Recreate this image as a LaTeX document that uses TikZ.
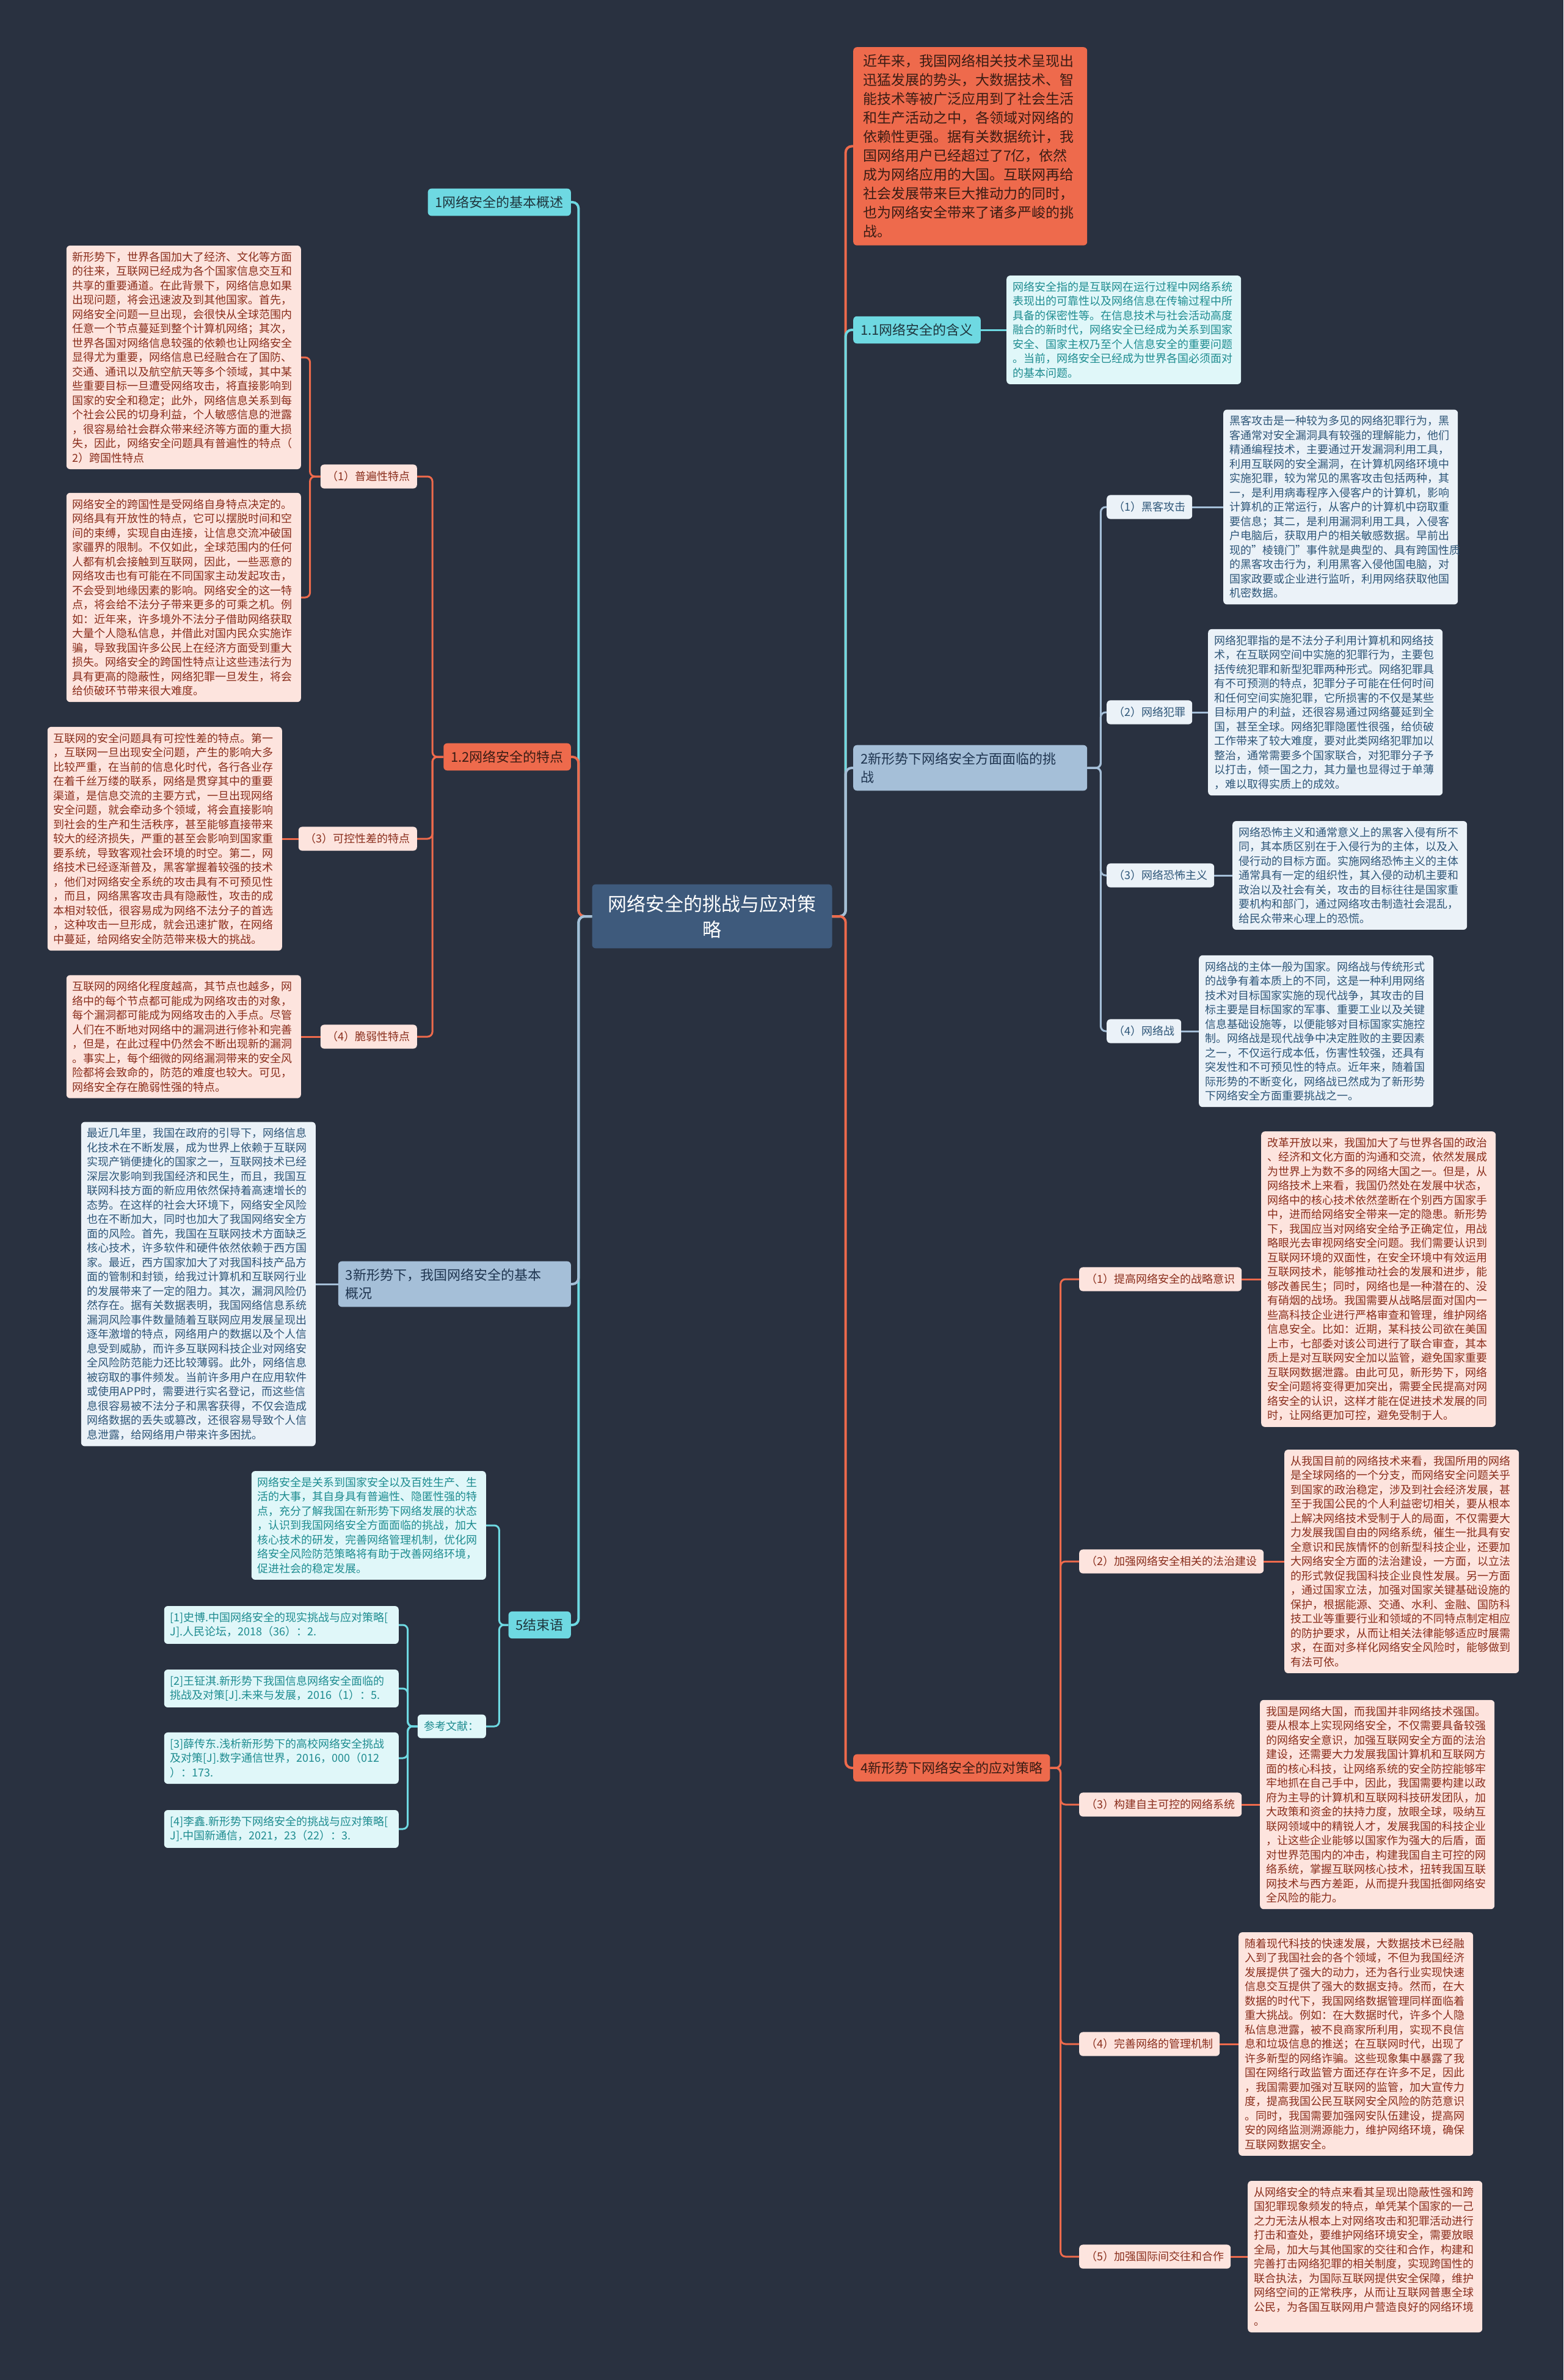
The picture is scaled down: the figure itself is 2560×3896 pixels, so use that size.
\documentclass[tikz,border=0pt]{standalone}
\usepackage{fontspec}
\setmainfont{Noto Sans CJK SC}
\definecolor{bg}{HTML}{293140}
\definecolor{cen}{HTML}{3E5A7C}
\definecolor{cy}{HTML}{6ED9E2}
\definecolor{rd}{HTML}{EE6A4C}
\definecolor{bl}{HTML}{A5BFD8}
\definecolor{cyl}{HTML}{E0F7F9}
\definecolor{rdl}{HTML}{FDE4DE}
\definecolor{bll}{HTML}{EBF2F8}
\definecolor{cyt}{HTML}{1E8C90}
\definecolor{rdt}{HTML}{8A2E1C}
\definecolor{blt}{HTML}{2E5678}
\definecolor{cyN}{HTML}{1F363E}
\definecolor{rdN}{HTML}{3A1C14}
\definecolor{blN}{HTML}{1F3550}
\tikzset{
  basebox/.style={rounded corners=6bp, align=left},
  cenbox/.style={basebox, fill=cen, text=white, align=center, text width=349bp,
    inner xsep=22bp, inner ysep=17bp, font=\fontsize{31bp}{42bp}\selectfont},
  lvone/.style={basebox, inner xsep=12bp, inner ysep=12bp, font=\fontsize{22bp}{30bp}\selectfont},
  cynode/.style={lvone, fill=cy, text=cyN},
  rdnode/.style={lvone, fill=rd, text=rdN},
  blnode/.style={lvone, fill=bl, text=blN},
  bignote/.style={basebox, fill=rd, text=rdN, text width=351bp, inner xsep=16bp, inner ysep=12bp,
    font=\fontsize{23bp}{31bp}\selectfont},
  lab/.style={basebox, inner xsep=11bp, inner ysep=11bp, font=\fontsize{18bp}{23bp}\selectfont},
  rdlab/.style={lab, fill=rdl, text=rdt},
  bllab/.style={lab, fill=bll, text=blt},
  cylab/.style={lab, fill=cyl, text=cyt},
  det/.style={basebox, text width=364bp, inner xsep=10bp, inner ysep=10bp,
    font=\fontsize{18bp}{23.5bp}\selectfont},
  rddet/.style={det, fill=rdl, text=rdt},
  bldet/.style={det, fill=bll, text=blt},
  cydet/.style={det, fill=cyl, text=cyt},
  mainln/.style={line width=4bp, rounded corners=10bp},
  subln/.style={line width=3bp, rounded corners=8bp}
}
\begin{document}
\begin{tikzpicture}[x=1bp,y=-1bp]
\fill[bg] (0,0) rectangle (2560,3896);
\useasboundingbox (0,0) rectangle (2560,3896);

% centre
\node[cenbox] (C) at (1166,1500) {网络安全的挑战与应对策\\略};

% ---------- right side ----------
\node[bignote, anchor=north west] (R0) at (1397,77) {近年来，我国网络相关技术呈现出\\迅猛发展的势头，大数据技术、智\\能技术等被广泛应用到了社会生活\\和生产活动之中，各领域对网络的\\依赖性更强。据有关数据统计，我\\国网络用户已经超过了7亿，依然\\成为网络应用的大国。互联网再给\\社会发展带来巨大推动力的同时，\\也为网络安全带来了诸多严峻的挑\\战。};

\node[cynode, anchor=west] (R1) at (1397,540) {1.1网络安全的含义};
\node[cydet, anchor=west] (R1d) at (1648,540) {网络安全指的是互联网在运行过程中网络系统\\表现出的可靠性以及网络信息在传输过程中所\\具备的保密性等。在信息技术与社会活动高度\\融合的新时代，网络安全已经成为关系到国家\\安全、国家主权乃至个人信息安全的重要问题\\。当前，网络安全已经成为世界各国必须面对\\的基本问题。};

\node[blnode, anchor=west, text width=359bp] (R2) at (1397,1257) {2新形势下网络安全方面面临的挑\\战};

\node[bllab, anchor=west] (a) at (1812,830) {（1）黑客攻击};
\node[bldet, anchor=west] (ad) at (2003,830) {黑客攻击是一种较为多见的网络犯罪行为，黑\\客通常对安全漏洞具有较强的理解能力，他们\\精通编程技术，主要通过开发漏洞利用工具，\\利用互联网的安全漏洞，在计算机网络环境中\\实施犯罪，较为常见的黑客攻击包括两种，其\\一，是利用病毒程序入侵客户的计算机，影响\\计算机的正常运行，从客户的计算机中窃取重\\要信息；其二，是利用漏洞利用工具，入侵客\\户电脑后，获取用户的相关敏感数据。早前出\\现的"棱镜门"事件就是典型的、具有跨国性质\\的黑客攻击行为，利用黑客入侵他国电脑，对\\国家政要或企业进行监听，利用网络获取他国\\机密数据。};

\node[bllab, anchor=west] (b) at (1812,1166) {（2）网络犯罪};
\node[bldet, anchor=west] (bd) at (1978,1166) {网络犯罪指的是不法分子利用计算机和网络技\\术，在互联网空间中实施的犯罪行为，主要包\\括传统犯罪和新型犯罪两种形式。网络犯罪具\\有不可预测的特点，犯罪分子可能在任何时间\\和任何空间实施犯罪，它所损害的不仅是某些\\目标用户的利益，还很容易通过网络蔓延到全\\国，甚至全球。网络犯罪隐匿性很强，给侦破\\工作带来了较大难度，要对此类网络犯罪加以\\整治，通常需要多个国家联合，对犯罪分子予\\以打击，倾一国之力，其力量也显得过于单薄\\，难以取得实质上的成效。};

\node[bllab, anchor=west] (c) at (1812,1433) {（3）网络恐怖主义};
\node[bldet, anchor=west] (cd) at (2018,1433) {网络恐怖主义和通常意义上的黑客入侵有所不\\同，其本质区别在于入侵行为的主体，以及入\\侵行动的目标方面。实施网络恐怖主义的主体\\通常具有一定的组织性，其入侵的动机主要和\\政治以及社会有关，攻击的目标往往是国家重\\要机构和部门，通过网络攻击制造社会混乱，\\给民众带来心理上的恐慌。};

\node[bllab, anchor=west] (d) at (1812,1688) {（4）网络战};
\node[bldet, anchor=west] (dd) at (1963,1688) {网络战的主体一般为国家。网络战与传统形式\\的战争有着本质上的不同，这是一种利用网络\\技术对目标国家实施的现代战争，其攻击的目\\标主要是目标国家的军事、重要工业以及关键\\信息基础设施等，以便能够对目标国家实施控\\制。网络战是现代战争中决定胜败的主要因素\\之一，不仅运行成本低，伤害性较强，还具有\\突发性和不可预见性的特点。近年来，随着国\\际形势的不断变化，网络战已然成为了新形势\\下网络安全方面重要挑战之一。};

\node[rdnode, anchor=west] (R4) at (1397,2894) {4新形势下网络安全的应对策略};

\node[rdlab, anchor=west] (e) at (1767,2094) {（1）提高网络安全的战略意识};
\node[rddet, anchor=west] (ed) at (2065,2094) {改革开放以来，我国加大了与世界各国的政治\\、经济和文化方面的沟通和交流，依然发展成\\为世界上为数不多的网络大国之一。但是，从\\网络技术上来看，我国仍然处在发展中状态，\\网络中的核心技术依然垄断在个别西方国家手\\中，进而给网络安全带来一定的隐患。新形势\\下，我国应当对网络安全给予正确定位，用战\\略眼光去审视网络安全问题。我们需要认识到\\互联网环境的双面性，在安全环境中有效运用\\互联网技术，能够推动社会的发展和进步，能\\够改善民生；同时，网络也是一种潜在的、没\\有硝烟的战场。我国需要从战略层面对国内一\\些高科技企业进行严格审查和管理，维护网络\\信息安全。比如：近期，某科技公司欲在美国\\上市，七部委对该公司进行了联合审查，其本\\质上是对互联网安全加以监管，避免国家重要\\互联网数据泄露。由此可见，新形势下，网络\\安全问题将变得更加突出，需要全民提高对网\\络安全的认识，这样才能在促进技术发展的同\\时，让网络更加可控，避免受制于人。};

\node[rdlab, anchor=west] (f) at (1767,2556) {（2）加强网络安全相关的法治建设};
\node[rddet, anchor=west] (fd) at (2103,2556) {从我国目前的网络技术来看，我国所用的网络\\是全球网络的一个分支，而网络安全问题关乎\\到国家的政治稳定，涉及到社会经济发展，甚\\至于我国公民的个人利益密切相关，要从根本\\上解决网络技术受制于人的局面，不仅需要大\\力发展我国自由的网络系统，催生一批具有安\\全意识和民族情怀的创新型科技企业，还要加\\大网络安全方面的法治建设，一方面，以立法\\的形式敦促我国科技企业良性发展。另一方面\\，通过国家立法，加强对国家关键基础设施的\\保护，根据能源、交通、水利、金融、国防科\\技工业等重要行业和领域的不同特点制定相应\\的防护要求，从而让相关法律能够适应时展需\\求，在面对多样化网络安全风险时，能够做到\\有法可依。};

\node[rdlab, anchor=west] (g) at (1767,2954) {（3）构建自主可控的网络系统};
\node[rddet, anchor=west] (gd) at (2063,2954) {我国是网络大国，而我国并非网络技术强国。\\要从根本上实现网络安全，不仅需要具备较强\\的网络安全意识，加强互联网安全方面的法治\\建设，还需要大力发展我国计算机和互联网方\\面的核心科技，让网络系统的安全防控能够牢\\牢地抓在自己手中，因此，我国需要构建以政\\府为主导的计算机和互联网科技研发团队，加\\大政策和资金的扶持力度，放眼全球，吸纳互\\联网领域中的精锐人才，发展我国的科技企业\\，让这些企业能够以国家作为强大的后盾，面\\对世界范围内的冲击，构建我国自主可控的网\\络系统，掌握互联网核心技术，扭转我国互联\\网技术与西方差距，从而提升我国抵御网络安\\全风险的能力。};

\node[rdlab, anchor=west] (h) at (1767,3346) {（4）完善网络的管理机制};
\node[rddet, anchor=west] (hd) at (2028,3346) {随着现代科技的快速发展，大数据技术已经融\\入到了我国社会的各个领域，不但为我国经济\\发展提供了强大的动力，还为各行业实现快速\\信息交互提供了强大的数据支持。然而，在大\\数据的时代下，我国网络数据管理同样面临着\\重大挑战。例如：在大数据时代，许多个人隐\\私信息泄露，被不良商家所利用，实现不良信\\息和垃圾信息的推送；在互联网时代，出现了\\许多新型的网络诈骗。这些现象集中暴露了我\\国在网络行政监管方面还存在许多不足，因此\\，我国需要加强对互联网的监管，加大宣传力\\度，提高我国公民互联网安全风险的防范意识\\。同时，我国需要加强网安队伍建设，提高网\\安的网络监测溯源能力，维护网络环境，确保\\互联网数据安全。};

\node[rdlab, anchor=west] (i) at (1767,3694) {（5）加强国际间交往和合作};
\node[rddet, anchor=west] (id) at (2043,3694) {从网络安全的特点来看其呈现出隐蔽性强和跨\\国犯罪现象频发的特点，单凭某个国家的一己\\之力无法从根本上对网络攻击和犯罪活动进行\\打击和查处，要维护网络环境安全，需要放眼\\全局，加大与其他国家的交往和合作，构建和\\完善打击网络犯罪的相关制度，实现跨国性的\\联合执法，为国际互联网提供安全保障，维护\\网络空间的正常秩序，从而让互联网普惠全球\\公民，为各国互联网用户营造良好的网络环境\\。};

% ---------- left side ----------
\node[cynode, anchor=east] (L1) at (935,331) {1网络安全的基本概述};

\node[rdnode, anchor=east] (L2) at (935,1239) {1.2网络安全的特点};

\node[rdlab, anchor=east] (j) at (683,780) {（1）普遍性特点};
\node[rddet, anchor=east] (jd1) at (493,585) {新形势下，世界各国加大了经济、文化等方面\\的往来，互联网已经成为各个国家信息交互和\\共享的重要通道。在此背景下，网络信息如果\\出现问题，将会迅速波及到其他国家。首先，\\网络安全问题一旦出现，会很快从全球范围内\\任意一个节点蔓延到整个计算机网络；其次，\\世界各国对网络信息较强的依赖也让网络安全\\显得尤为重要，网络信息已经融合在了国防、\\交通、通讯以及航空航天等多个领域，其中某\\些重要目标一旦遭受网络攻击，将直接影响到\\国家的安全和稳定；此外，网络信息关系到每\\个社会公民的切身利益，个人敏感信息的泄露\\，很容易给社会群众带来经济等方面的重大损\\失，因此，网络安全问题具有普遍性的特点（\\2）跨国性特点};
\node[rddet, anchor=east] (jd2) at (493,978) {网络安全的跨国性是受网络自身特点决定的。\\网络具有开放性的特点，它可以摆脱时间和空\\间的束缚，实现自由连接，让信息交流冲破国\\家疆界的限制。不仅如此，全球范围内的任何\\人都有机会接触到互联网，因此，一些恶意的\\网络攻击也有可能在不同国家主动发起攻击，\\不会受到地缘因素的影响。网络安全的这一特\\点，将会给不法分子带来更多的可乘之机。例\\如：近年来，许多境外不法分子借助网络获取\\大量个人隐私信息，并借此对国内民众实施诈\\骗，导致我国许多公民上在经济方面受到重大\\损失。网络安全的跨国性特点让这些违法行为\\具有更高的隐蔽性，网络犯罪一旦发生，将会\\给侦破环节带来很大难度。};

\node[rdlab, anchor=east] (k) at (683,1373) {（3）可控性差的特点};
\node[rddet, anchor=east] (kd) at (462,1373) {互联网的安全问题具有可控性差的特点。第一\\，互联网一旦出现安全问题，产生的影响大多\\比较严重，在当前的信息化时代，各行各业存\\在着千丝万缕的联系，网络是贯穿其中的重要\\渠道，是信息交流的主要方式，一旦出现网络\\安全问题，就会牵动多个领域，将会直接影响\\到社会的生产和生活秩序，甚至能够直接带来\\较大的经济损失，严重的甚至会影响到国家重\\要系统，导致客观社会环境的时空。第二，网\\络技术已经逐渐普及，黑客掌握着较强的技术\\，他们对网络安全系统的攻击具有不可预见性\\，而且，网络黑客攻击具有隐蔽性，攻击的成\\本相对较低，很容易成为网络不法分子的首选\\，这种攻击一旦形成，就会迅速扩散，在网络\\中蔓延，给网络安全防范带来极大的挑战。};

\node[rdlab, anchor=east] (l) at (683,1697) {（4）脆弱性特点};
\node[rddet, anchor=east] (ld) at (493,1697) {互联网的网络化程度越高，其节点也越多，网\\络中的每个节点都可能成为网络攻击的对象，\\每个漏洞都可能成为网络攻击的入手点。尽管\\人们在不断地对网络中的漏洞进行修补和完善\\，但是，在此过程中仍然会不断出现新的漏洞\\。事实上，每个细微的网络漏洞带来的安全风\\险都将会致命的，防范的难度也较大。可见，\\网络安全存在脆弱性强的特点。};

\node[blnode, anchor=east, text width=357bp] (L3) at (935,2102) {3新形势下，我国网络安全的基本\\概况};
\node[bldet, anchor=east] (L3d) at (517,2102) {最近几年里，我国在政府的引导下，网络信息\\化技术在不断发展，成为世界上依赖于互联网\\实现产销便捷化的国家之一，互联网技术已经\\深层次影响到我国经济和民生，而且，我国互\\联网科技方面的新应用依然保持着高速增长的\\态势。在这样的社会大环境下，网络安全风险\\也在不断加大，同时也加大了我国网络安全方\\面的风险。首先，我国在互联网技术方面缺乏\\核心技术，许多软件和硬件依然依赖于西方国\\家。最近，西方国家加大了对我国科技产品方\\面的管制和封锁，给我过计算机和互联网行业\\的发展带来了一定的阻力。其次，漏洞风险仍\\然存在。据有关数据表明，我国网络信息系统\\漏洞风险事件数量随着互联网应用发展呈现出\\逐年激增的特点，网络用户的数据以及个人信\\息受到威胁，而许多互联网科技企业对网络安\\全风险防范能力还比较薄弱。此外，网络信息\\被窃取的事件频发。当前许多用户在应用软件\\或使用APP时，需要进行实名登记，而这些信\\息很容易被不法分子和黑客获得，不仅会造成\\网络数据的丢失或篡改，还很容易导致个人信\\息泄露，给网络用户带来许多困扰。};

\node[cynode, anchor=east] (L5) at (935,2660) {5结束语};
\node[cydet, anchor=east] (L5d) at (796,2497) {网络安全是关系到国家安全以及百姓生产、生\\活的大事，其自身具有普遍性、隐匿性强的特\\点，充分了解我国在新形势下网络发展的状态\\，认识到我国网络安全方面面临的挑战，加大\\核心技术的研发，完善网络管理机制，优化网\\络安全风险防范策略将有助于改善网络环境，\\促进社会的稳定发展。};
\node[cylab, anchor=east] (ref) at (796,2826) {参考文献：};
\node[cydet, anchor=east] (ref1) at (653,2660) {[1]史博.中国网络安全的现实挑战与应对策略[\\J].人民论坛，2018（36）：2.};
\node[cydet, anchor=east] (ref2) at (653,2764) {[2]王钲淇.新形势下我国信息网络安全面临的\\挑战及对策[J].未来与发展，2016（1）：5.};
\node[cydet, anchor=east] (ref3) at (653,2878) {[3]薛传东.浅析新形势下的高校网络安全挑战\\及对策[J].数字通信世界，2016，000（012\\）：173.};
\node[cydet, anchor=east] (ref4) at (653,2994) {[4]李鑫.新形势下网络安全的挑战与应对策略[\\J].中国新通信，2021，23（22）：3.};

% ---------- connectors ----------
\draw[mainln, rd] (C.east) -- ++(22,0) |- (R0.west);
\draw[mainln, cy] (C.east) -- ++(22,0) |- (R1.west);
\draw[mainln, bl] (C.east) -- ++(22,0) |- (R2.west);
\draw[mainln, rd] (C.east) -- ++(22,0) |- (R4.west);
\draw[mainln, cy] (C.west) -- ++(-22,0) |- (L1.east);
\draw[mainln, rd] (C.west) -- ++(-22,0) |- (L2.east);
\draw[mainln, cy] (C.west) -- ++(-22,0) |- (L5.east);
\draw[mainln, bl] (C.west) -- ++(-22,0) |- (L3.east);

\draw[subln, cy] (R1.east) -- (R1d.west);
\foreach \p/\q in {a/ad,b/bd,c/cd,d/dd}{
  \draw[subln, bl] (R2.east) -- ++(22,0) |- (\p.west);
  \draw[subln, bl] (\p.east) -- (\q.west);
}
\foreach \p/\q in {e/ed,f/fd,g/gd,h/hd,i/id}{
  \draw[subln, rd] (R4.east) -- ++(17,0) |- (\p.west);
  \draw[subln, rd] (\p.east) -- (\q.west);
}
\foreach \p in {j,k,l}{
  \draw[subln, rd] (L2.west) -- ++(-18,0) |- (\p.east);
}
\draw[subln, rd] (j.west) -- ++(-17,0) |- (jd1.east);
\draw[subln, rd] (j.west) -- ++(-17,0) |- (jd2.east);
\draw[subln, rd] (k.west) -- (kd.east);
\draw[subln, rd] (l.west) -- (ld.east);
\draw[subln, bl] (L3.west) -- (L3d.east);
\draw[subln, cy] (L5.west) -- ++(-15,0) |- (L5d.east);
\draw[subln, cy] (L5.west) -- ++(-15,0) |- (ref.east);
\foreach \p in {ref1,ref2,ref3,ref4}{
  \draw[subln, cy] (ref.west) -- ++(-16,0) |- (\p.east);
}
\end{tikzpicture}
\end{document}
